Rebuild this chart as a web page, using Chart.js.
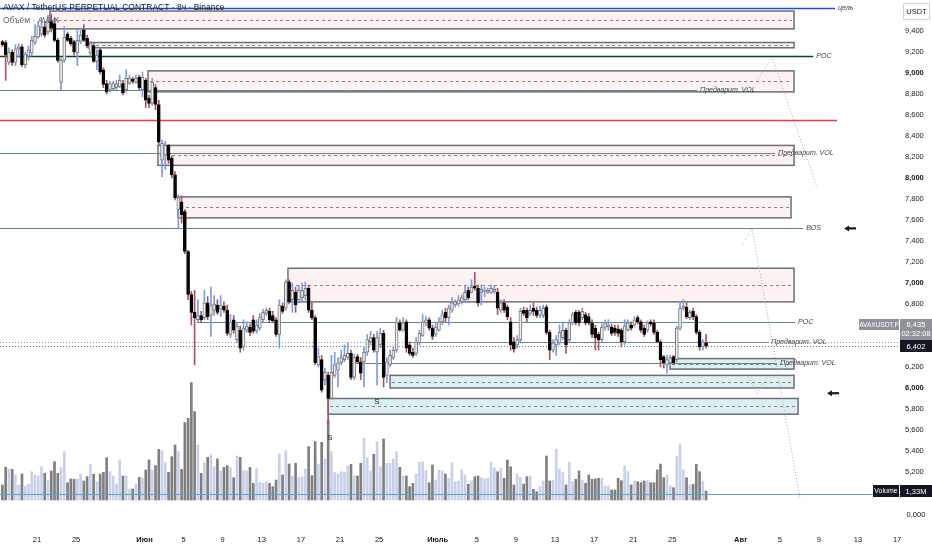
<!DOCTYPE html>
<html>
<head>
<meta charset="utf-8">
<script src="https://cdn.jsdelivr.net/npm/chart.js@4.4.1/dist/chart.umd.min.js"></script>
<style>
  html, body { margin: 0; padding: 0; background: #fff; }
</style>
</head>
<body>
<canvas id="chart" width="932" height="550"></canvas>
<script>
// 8h candles; time axis counted in days from 1 June
const firstDay = -14.54;
const barsPerDay = 3;

const opens = [
  9.30, 9.29, 9.10, 9.20, 9.10, 9.23, 9.25, 9.08, 9.16, 9.19,
  9.29, 9.34, 9.37, 9.44, 9.39, 9.49, 9.47, 9.31, 8.91, 9.12,
  9.37, 9.33, 9.30, 9.19, 9.30, 9.41, 9.33, 9.19, 9.26, 9.11,
  9.22, 9.03, 8.90, 8.84, 8.85, 8.86, 8.87, 8.90, 8.84, 8.90,
  8.94, 8.91, 8.96, 8.84, 8.93, 8.76, 8.71, 8.86, 8.70, 8.17,
  8.22, 8.31, 8.19, 8.03, 7.70, 7.77, 7.68, 7.30, 6.89, 6.72,
  6.65, 6.69, 6.67, 6.81, 6.69, 6.74, 6.79, 6.75, 6.78, 6.74,
  6.51, 6.65, 6.46, 6.55, 6.39, 6.55, 6.58, 6.65, 6.54, 6.57,
  6.65, 6.71, 6.73, 6.69, 6.65, 6.51, 6.78, 6.76, 7.01, 6.84,
  6.91, 6.84, 6.86, 6.88, 6.95, 6.74, 6.67, 6.22, 6.27, 6.08,
  6.12, 5.90, 6.12, 6.17, 6.24, 6.27, 6.29, 6.33, 6.10, 6.30,
  6.25, 6.25, 6.34, 6.44, 6.48, 6.34, 6.41, 6.52, 6.12, 6.22,
  6.29, 6.36, 6.62, 6.55, 6.63, 6.41, 6.34, 6.33, 6.43, 6.50,
  6.62, 6.65, 6.57, 6.51, 6.55, 6.63, 6.72, 6.67, 6.74, 6.79,
  6.80, 6.82, 6.84, 6.93, 6.91, 6.97, 6.95, 6.91, 6.92, 6.91,
  6.91, 6.92, 6.91, 6.74, 6.81, 6.77, 6.63, 6.44, 6.41, 6.46,
  6.74, 6.74, 6.71, 6.76, 6.74, 6.69, 6.69, 6.77, 6.53, 6.36,
  6.41, 6.43, 6.48, 6.55, 6.46, 6.62, 6.72, 6.72, 6.67, 6.70,
  6.68, 6.62, 6.57, 6.51, 6.46, 6.58, 6.58, 6.58, 6.57, 6.56,
  6.55, 6.44, 6.55, 6.60, 6.60, 6.67, 6.63, 6.57, 6.55, 6.63,
  6.62, 6.53, 6.44, 6.30, 6.22, 6.24, 6.30, 6.27, 6.57, 6.76,
  6.77, 6.67, 6.73, 6.68, 6.53, 6.39, 6.43
];
const highs = [
  9.31, 9.31, 9.24, 9.22, 9.27, 9.28, 9.27, 9.20, 9.26, 9.35,
  9.46, 9.49, 9.52, 9.49, 9.55, 9.56, 9.52, 9.33, 9.14, 9.44,
  9.39, 9.35, 9.31, 9.41, 9.41, 9.46, 9.36, 9.30, 9.28, 9.22,
  9.24, 9.05, 8.93, 8.92, 8.92, 8.93, 8.98, 8.93, 9.03, 8.98,
  8.96, 8.98, 8.98, 9.01, 8.95, 8.79, 8.95, 8.89, 8.74, 8.36,
  8.35, 8.32, 8.21, 8.06, 7.84, 7.83, 7.70, 7.31, 6.92, 6.93,
  6.84, 6.73, 6.93, 6.87, 6.96, 6.88, 6.84, 6.88, 6.82, 6.79,
  6.70, 6.69, 6.63, 6.59, 6.65, 6.63, 6.61, 6.69, 6.65, 6.71,
  6.75, 6.76, 6.76, 6.73, 6.67, 6.84, 6.81, 7.03, 7.03, 7.00,
  6.96, 6.97, 7.00, 7.01, 6.98, 6.81, 6.69, 6.38, 6.31, 6.19,
  6.15, 6.31, 6.34, 6.29, 6.36, 6.41, 6.43, 6.36, 6.32, 6.32,
  6.29, 6.39, 6.51, 6.54, 6.51, 6.54, 6.57, 6.55, 6.29, 6.36,
  6.39, 6.67, 6.65, 6.67, 6.65, 6.44, 6.38, 6.48, 6.55, 6.70,
  6.68, 6.67, 6.60, 6.63, 6.67, 6.74, 6.76, 6.79, 6.86, 6.84,
  6.88, 6.89, 6.97, 6.96, 7.03, 7.10, 6.98, 6.98, 6.96, 6.95,
  6.98, 6.97, 6.95, 6.84, 6.84, 6.79, 6.67, 6.48, 6.50, 6.76,
  6.77, 6.76, 6.79, 6.81, 6.77, 6.78, 6.79, 6.79, 6.55, 6.46,
  6.50, 6.60, 6.63, 6.57, 6.65, 6.72, 6.74, 6.74, 6.76, 6.72,
  6.71, 6.65, 6.60, 6.53, 6.61, 6.65, 6.65, 6.61, 6.60, 6.60,
  6.57, 6.65, 6.65, 6.63, 6.68, 6.69, 6.65, 6.60, 6.64, 6.65,
  6.65, 6.55, 6.46, 6.31, 6.31, 6.31, 6.31, 6.59, 6.82, 6.84,
  6.81, 6.74, 6.76, 6.70, 6.55, 6.46, 6.51
];
const lows = [
  9.25, 8.93, 9.08, 9.07, 9.07, 9.15, 9.06, 9.05, 9.12, 9.16,
  9.27, 9.33, 9.35, 9.34, 9.37, 9.39, 9.30, 9.10, 8.84, 9.10,
  9.30, 9.26, 9.17, 9.07, 9.28, 9.30, 9.24, 9.16, 9.10, 9.03,
  8.99, 8.86, 8.80, 8.82, 8.84, 8.84, 8.86, 8.79, 8.82, 8.89,
  8.90, 8.90, 8.84, 8.77, 8.67, 8.67, 8.69, 8.65, 8.31, 8.01,
  8.08, 8.14, 8.00, 7.79, 7.52, 7.57, 7.28, 6.84, 6.60, 6.22,
  6.63, 6.63, 6.65, 6.65, 6.49, 6.69, 6.70, 6.68, 6.72, 6.50,
  6.48, 6.52, 6.43, 6.34, 6.36, 6.53, 6.50, 6.52, 6.52, 6.55,
  6.63, 6.69, 6.63, 6.62, 6.49, 6.38, 6.71, 6.74, 6.80, 6.72,
  6.72, 6.81, 6.82, 6.84, 6.72, 6.65, 6.22, 6.20, 5.96, 6.03,
  5.65, 5.89, 6.10, 6.01, 6.22, 6.25, 6.27, 6.08, 6.08, 6.23,
  6.08, 6.01, 6.31, 6.41, 6.34, 6.03, 6.38, 6.01, 6.05, 6.20,
  6.27, 6.34, 6.54, 6.54, 6.34, 6.31, 6.29, 6.31, 6.41, 6.49,
  6.59, 6.55, 6.46, 6.49, 6.54, 6.60, 6.63, 6.60, 6.72, 6.77,
  6.78, 6.80, 6.82, 6.84, 6.90, 6.93, 6.78, 6.79, 6.87, 6.90,
  6.90, 6.90, 6.70, 6.72, 6.72, 6.65, 6.36, 6.34, 6.38, 6.44,
  6.69, 6.63, 6.69, 6.69, 6.67, 6.67, 6.67, 6.51, 6.27, 6.34,
  6.31, 6.41, 6.46, 6.33, 6.43, 6.60, 6.60, 6.59, 6.65, 6.60,
  6.60, 6.48, 6.36, 6.36, 6.44, 6.55, 6.55, 6.50, 6.50, 6.49,
  6.39, 6.41, 6.54, 6.55, 6.58, 6.61, 6.53, 6.49, 6.53, 6.59,
  6.51, 6.43, 6.20, 6.19, 6.14, 6.21, 6.22, 6.25, 6.55, 6.74,
  6.66, 6.65, 6.65, 6.51, 6.36, 6.36, 6.38
];
const closes = [
  9.27, 9.17, 9.20, 9.10, 9.23, 9.25, 9.08, 9.18, 9.22, 9.31,
  9.35, 9.45, 9.44, 9.36, 9.49, 9.43, 9.31, 9.12, 9.12, 9.34,
  9.31, 9.28, 9.20, 9.31, 9.36, 9.31, 9.26, 9.28, 9.11, 9.17,
  9.01, 8.89, 8.82, 8.90, 8.90, 8.90, 8.93, 8.81, 8.95, 8.95,
  8.92, 8.95, 8.86, 8.96, 8.74, 8.71, 8.91, 8.70, 8.34, 8.33,
  8.31, 8.17, 8.03, 7.81, 7.81, 7.65, 7.30, 6.89, 6.72, 6.67,
  6.69, 6.65, 6.81, 6.68, 6.79, 6.80, 6.72, 6.79, 6.74, 6.52,
  6.63, 6.55, 6.59, 6.38, 6.57, 6.59, 6.53, 6.54, 6.60, 6.67,
  6.72, 6.74, 6.65, 6.64, 6.51, 6.79, 6.73, 7.01, 6.82, 6.93,
  6.79, 6.93, 6.93, 6.95, 6.74, 6.67, 6.24, 6.30, 5.98, 6.15,
  5.90, 6.15, 6.22, 6.24, 6.29, 6.31, 6.33, 6.10, 6.29, 6.25,
  6.14, 6.34, 6.46, 6.48, 6.36, 6.48, 6.52, 6.10, 6.25, 6.31,
  6.36, 6.63, 6.55, 6.62, 6.38, 6.33, 6.31, 6.44, 6.52, 6.63,
  6.65, 6.57, 6.49, 6.58, 6.63, 6.70, 6.67, 6.76, 6.81, 6.82,
  6.84, 6.86, 6.91, 6.86, 6.96, 6.95, 6.81, 6.94, 6.93, 6.93,
  6.95, 6.94, 6.76, 6.81, 6.74, 6.68, 6.41, 6.37, 6.46, 6.73,
  6.71, 6.67, 6.74, 6.73, 6.69, 6.74, 6.76, 6.53, 6.36, 6.43,
  6.46, 6.53, 6.55, 6.41, 6.62, 6.70, 6.62, 6.62, 6.73, 6.62,
  6.62, 6.51, 6.48, 6.46, 6.58, 6.62, 6.60, 6.52, 6.53, 6.52,
  6.44, 6.59, 6.62, 6.57, 6.65, 6.63, 6.55, 6.51, 6.62, 6.61,
  6.53, 6.44, 6.27, 6.24, 6.27, 6.29, 6.24, 6.57, 6.76, 6.78,
  6.68, 6.72, 6.68, 6.53, 6.39, 6.44, 6.40
];
// volume, millions
const volumes = [
  2.22, 4.83, 4.58, 4.53, 3.70, 2.22, 3.84, 2.07, 2.37, 4.19,
  3.70, 3.55, 4.93, 3.94, 2.96, 4.29, 5.67, 3.94, 4.78, 7.15,
  2.56, 3.11, 3.06, 3.11, 3.84, 2.81, 3.45, 5.28, 3.80, 2.71,
  3.84, 4.09, 6.26, 4.19, 3.55, 2.37, 5.92, 3.55, 3.55, 1.63,
  1.63, 2.37, 3.35, 3.20, 4.44, 5.92, 4.44, 5.08, 7.49, 7.25,
  5.52, 4.09, 6.41, 8.13, 7.15, 4.53, 11.44, 12.08, 17.35, 13.06,
  8.13, 3.94, 5.52, 6.31, 6.66, 4.93, 6.06, 4.29, 4.83, 5.08,
  4.78, 3.30, 6.51, 6.31, 4.34, 4.34, 4.83, 2.47, 4.63, 2.61,
  2.47, 2.71, 2.47, 1.97, 2.96, 6.80, 3.70, 7.30, 5.32, 3.55,
  5.42, 3.35, 3.45, 4.58, 7.89, 3.60, 8.63, 5.32, 8.53, 6.01,
  11.83, 7.15, 4.04, 3.84, 4.19, 4.09, 5.03, 5.27, 3.55, 3.55,
  5.42, 9.12, 6.26, 4.29, 6.75, 8.63, 4.93, 9.02, 5.42, 5.42,
  6.06, 7.15, 4.83, 3.55, 3.55, 1.97, 2.47, 3.84, 5.57, 5.67,
  4.34, 2.56, 5.18, 2.96, 4.44, 4.29, 3.84, 3.20, 5.52, 2.71,
  2.81, 4.44, 3.70, 2.32, 2.81, 3.45, 3.55, 3.30, 3.11, 3.20,
  5.57, 4.78, 4.19, 4.68, 3.20, 5.92, 4.93, 2.22, 3.84, 3.35,
  2.37, 3.45, 3.55, 1.58, 1.23, 1.97, 2.81, 6.51, 2.81, 2.86,
  7.54, 4.58, 4.04, 2.22, 5.57, 2.71, 3.06, 4.29, 2.86, 2.47,
  3.70, 3.06, 3.11, 3.20, 3.20, 2.07, 2.07, 1.48, 1.48, 3.20,
  2.86, 5.03, 4.19, 2.22, 2.86, 2.71, 2.56, 2.81, 2.86, 2.56,
  2.56, 4.44, 5.32, 3.30, 3.70, 2.07, 1.82, 6.41, 8.28, 4.44,
  3.30, 2.22, 2.32, 5.27, 4.19, 2.81, 1.33
];

// axis ticks
const xTickDays = [-11, -7, 0, 4, 8, 12, 16, 20, 24, 30, 34, 38, 42, 46, 50, 54, 61, 65, 69, 73, 77];
const xTickLabels = ['21', '25', 'Июн', '5', '9', '13', '17', '21', '25', 'Июль', '5', '9', '13', '17', '21', '25', 'Авг', '5', '9', '13', '17'];
const priceTicks = [9.4, 9.2, 9.0, 8.8, 8.6, 8.4, 8.2, 8.0, 7.8, 7.6, 7.4, 7.2, 7.0, 6.8, 6.6, 6.4, 6.2, 6.0, 5.8, 5.6, 5.4, 5.2];

// drawn zones (from day, to day, top, bottom)
const zoneFrom = [-9.67, -5.78, 0.36, 1.38, 3.43, 14.68, 53.77, 25.12, 18.78];
const zoneTo = [66.46, 66.46, 66.46, 66.46, 66.15, 66.46, 66.46, 66.46, 66.87];
const zoneHigh = [9.59, 9.29, 9.02, 8.31, 7.82, 7.14, 6.28, 6.12, 5.90];
const zoneLow = [9.42, 9.24, 8.82, 8.12, 7.62, 6.82, 6.18, 6.00, 5.75];
const zoneSide = ['supply', 'supply', 'supply', 'supply', 'supply', 'supply', 'demand', 'demand', 'demand'];

// horizontal levels
const levelPrice = [9.62, 9.16, 8.84, 8.55, 8.24, 7.52, 6.63, 6.44, 6.24, 4.99];
const levelFrom = [null, null, null, null, null, null, 5.37, 26.66, 21.54, null];
const levelTo = [70.65, 68.43, 56.54, 70.86, 64.52, 67.39, 66.56, 63.81, 64.73, null];
const levelText = ['цель', 'POC', 'Предварит. VOL', '', 'Предварит. VOL', 'BOS', 'POC', 'Предварит. VOL', 'Предварит. VOL', ''];
const levelKind = ['target', 'poc', 'vol', 'red', 'vol', 'vol', 'vol', 'vol', 'vol', 'blue'];

// projected path sketches
const pathDays = [[62.67, 64.21, 68.81], [61.14, 62.16, 67.07], [61.76, 62.67, 63.70]];
const pathPrices = [[8.93, 9.15, 7.91], [7.36, 7.52, 4.95], [6.10, 5.95, 6.10]];

const arrowDays = [72.19, 70.45];
const arrowPrices = [7.52, 5.95];
const markDays = [23.79, 18.98];
const markPrices = [5.87, 5.53];

const lastTrade = 6.435;
const markPrice = 6.402;

const font = "'Liberation Sans', Arial, sans-serif";
const levelColors = { target: '#2150d8', poc: '#0f3f2f', vol: '#5c8a84', red: '#f23645', blue: '#5aa7c6' };

const candleDays = opens.map((_, i) => firstDay + i / barsPerDay);
const isUp = closes.map((c, i) => c >= opens[i]);

const fmt = v => v.toFixed(3).replace('.', ',');

function box(ctx, x, y, w, h, bg, text, color, size) {
  ctx.fillStyle = bg;
  ctx.fillRect(x, y, w, h);
  ctx.fillStyle = color;
  ctx.font = size + 'px ' + font;
  ctx.textAlign = 'center';
  ctx.textBaseline = 'middle';
  ctx.fillText(text, x + w / 2, y + h / 2 + 0.5);
}

function drawLevel(chart, i) {
  const { ctx, chartArea, scales: { x, y } } = chart;
  const x1 = levelFrom[i] === null ? chartArea.left : x.getPixelForValue(levelFrom[i]);
  const x2 = levelTo[i] === null ? chartArea.right : x.getPixelForValue(levelTo[i]);
  const yy = Math.round(y.getPixelForValue(levelPrice[i])) + 0.5;
  ctx.strokeStyle = levelColors[levelKind[i]];
  ctx.lineWidth = levelKind[i] === 'vol' || levelKind[i] === 'blue' ? 1 : 1.5;
  ctx.beginPath();
  ctx.moveTo(x1, yy);
  ctx.lineTo(x2, yy);
  ctx.stroke();
}

const drawings = {
  id: 'drawings',
  beforeDatasetsDraw(chart) {
    const { ctx, chartArea, scales: { x, y } } = chart;
    ctx.save();
    // zones
    for (let i = 0; i < zoneHigh.length; i++) {
      const x1 = x.getPixelForValue(zoneFrom[i]), x2 = x.getPixelForValue(zoneTo[i]);
      const y1 = y.getPixelForValue(zoneHigh[i]), y2 = y.getPixelForValue(zoneLow[i]);
      ctx.fillStyle = zoneSide[i] === 'supply' ? 'rgba(242,54,69,0.07)' : 'rgba(40,160,175,0.16)';
      ctx.fillRect(x1, y1, x2 - x1, y2 - y1);
      ctx.setLineDash([]);
      ctx.lineWidth = 1.5;
      ctx.strokeStyle = '#6b6e78';
      ctx.strokeRect(x1, y1, x2 - x1, y2 - y1);
      ctx.setLineDash([3, 3]);
      ctx.lineWidth = 1;
      ctx.strokeStyle = '#80838c';
      const ym = Math.round((y1 + y2) / 2) + 0.5;
      ctx.beginPath();
      ctx.moveTo(x1 + 2, ym);
      ctx.lineTo(x2 - 2, ym);
      ctx.stroke();
    }
    // levels (the blue one goes over the volume bars later)
    ctx.setLineDash([]);
    for (let i = 0; i < levelPrice.length; i++) {
      if (levelKind[i] !== 'blue') drawLevel(chart, i);
    }
    // last price lines
    ctx.setLineDash([1, 2]);
    ctx.lineWidth = 1;
    [[lastTrade, '#9598a1'], [markPrice, '#6a6d78']].forEach(([p, c]) => {
      const yy = Math.round(y.getPixelForValue(p)) + 0.5;
      ctx.strokeStyle = c;
      ctx.beginPath();
      ctx.moveTo(chartArea.left, yy);
      ctx.lineTo(chartArea.right, yy);
      ctx.stroke();
    });
    ctx.restore();
  },
  afterDatasetsDraw(chart) {
    const { ctx, scales: { x, y } } = chart;
    ctx.save();
    for (let i = 0; i < levelPrice.length; i++) {
      if (levelKind[i] === 'blue') drawLevel(chart, i);
    }
    // level captions
    ctx.font = 'italic 7px ' + font;
    ctx.fillStyle = '#3a3d45';
    ctx.textAlign = 'left';
    ctx.textBaseline = 'middle';
    for (let i = 0; i < levelPrice.length; i++) {
      if (!levelText[i]) continue;
      ctx.fillText(levelText[i], x.getPixelForValue(levelTo[i]) + 3, y.getPixelForValue(levelPrice[i]));
    }
    // projection paths
    ctx.setLineDash([1, 2]);
    ctx.strokeStyle = '#a3a6ad';
    ctx.lineWidth = 1;
    pathDays.forEach((days, k) => {
      ctx.beginPath();
      days.forEach((d, j) => {
        const px = x.getPixelForValue(d), py = y.getPixelForValue(pathPrices[k][j]);
        if (j === 0) ctx.moveTo(px, py); else ctx.lineTo(px, py);
      });
      ctx.stroke();
    });
    ctx.setLineDash([]);
    // arrows
    ctx.fillStyle = '#1a1a1a';
    ctx.strokeStyle = '#1a1a1a';
    arrowDays.forEach((d, i) => {
      const ax = x.getPixelForValue(d), ay = y.getPixelForValue(arrowPrices[i]);
      ctx.lineWidth = 2.2;
      ctx.beginPath();
      ctx.moveTo(ax - 2, ay);
      ctx.lineTo(ax + 6, ay);
      ctx.stroke();
      ctx.beginPath();
      ctx.moveTo(ax - 6, ay);
      ctx.lineTo(ax - 1, ay - 3);
      ctx.lineTo(ax - 1, ay + 3);
      ctx.closePath();
      ctx.fill();
    });
    // S marks
    ctx.font = '8px ' + font;
    ctx.textAlign = 'center';
    markDays.forEach((d, i) => ctx.fillText('S', x.getPixelForValue(d), y.getPixelForValue(markPrices[i])));
    ctx.restore();
  },
  afterDraw(chart) {
    const { ctx, chartArea, scales: { y, yVol } } = chart;
    ctx.save();
    // legend texts
    ctx.textAlign = 'left';
    ctx.textBaseline = 'middle';
    ctx.font = '8.5px ' + font;
    ctx.fillStyle = '#131722';
    ctx.fillText('AVAX / TetherUS PERPETUAL CONTRACT · 8ч · Binance', 3, 8);
    ctx.fillStyle = '#5d606b';
    ctx.fillText('Объём · AVAX', 3, 21);
    // currency box
    ctx.fillStyle = '#fff';
    ctx.strokeStyle = '#d1d4dc';
    ctx.lineWidth = 1;
    ctx.beginPath();
    ctx.rect(903.5, 3.5, 26, 16);
    ctx.fill();
    ctx.stroke();
    ctx.fillStyle = '#131722';
    ctx.font = '7.5px ' + font;
    ctx.textAlign = 'center';
    ctx.fillText('USDT', 916.5, 12);
    // price labels
    const ym = Math.round(y.getPixelForValue(markPrice));
    const ax = chartArea.right;
    ctx.fillStyle = '#8f9299';
    ctx.fillRect(ax, ym - 27, 32, 21);
    ctx.fillStyle = '#fff';
    ctx.font = '7.5px ' + font;
    ctx.fillText(fmt(lastTrade), ax + 16, ym - 21.5);
    ctx.fillText('02:32:08', ax + 16, ym - 12);
    box(ctx, ax - 41, ym - 27, 40, 11, '#8f9299', 'AVAXUSDT.P', '#fff', 6.5);
    box(ctx, ax, ym - 6, 32, 12, '#131722', fmt(markPrice), '#fff', 7.5);
    // volume labels
    const yv = Math.round(yVol.getPixelForValue(volumes[volumes.length - 1]));
    box(ctx, ax - 27, yv - 6, 26, 12, '#131722', 'Volume', '#fff', 7);
    box(ctx, ax, yv - 6, 32, 12, '#131722', '1,33M', '#fff', 7.5);
    ctx.fillStyle = '#131722';
    ctx.font = '7.5px ' + font;
    ctx.textAlign = 'center';
    ctx.fillText('0,000', ax + 16, chartArea.bottom - 12);
    ctx.restore();
  }
};

function isMonth(c) {
  return c && typeof c.index === 'number' && isNaN(Number(xTickLabels[c.index]));
}
function isWhole(c) {
  return c && c.tick && Math.abs(c.tick.value - Math.round(c.tick.value)) < 1e-6;
}
function noEdgePadding(s) {
  s.paddingTop = 0;
  s.paddingBottom = 0;
  s.paddingLeft = 0;
  s.paddingRight = 0;
}

new Chart(document.getElementById('chart'), {
  type: 'bar',
  data: {
    datasets: [
      {
        label: 'Volume',
        data: candleDays.map((d, i) => ({ x: d, y: volumes[i] })),
        yAxisID: 'yVol',
        backgroundColor: isUp.map(u => u ? '#c8d0ec' : '#7f7f7f'),
        barThickness: 2,
        order: 3
      },
      {
        label: 'Wicks',
        data: candleDays.map((d, i) => ({ x: d, y: [lows[i], highs[i]] })),
        yAxisID: 'y',
        backgroundColor: isUp.map(u => u ? '#7d9be2' : '#a8555e'),
        barThickness: 1,
        order: 2
      },
      {
        label: 'Bodies',
        data: candleDays.map((d, i) => ({ x: d, y: [opens[i], closes[i]] })),
        yAxisID: 'y',
        backgroundColor: isUp.map(u => u ? '#ececec' : '#050505'),
        borderColor: isUp.map(u => u ? '#7a7a7a' : '#050505'),
        borderWidth: 1,
        borderSkipped: false,
        minBarLength: 1,
        barThickness: 3,
        order: 1
      }
    ]
  },
  options: {
    responsive: false,
    animation: false,
    devicePixelRatio: 1,
    layout: { padding: 0 },
    datasets: { bar: { grouped: false } },
    plugins: { legend: { display: false }, tooltip: { enabled: false } },
    scales: {
      x: {
        type: 'linear',
        min: -14.786,
        max: 77.30,
        offset: false,
        grid: { display: false, drawTicks: false },
        border: { display: false },
        afterBuildTicks: s => { s.ticks = xTickDays.map(v => ({ value: v })); },
        afterFit: s => { s.height = 23; noEdgePadding(s); },
        ticks: {
          autoSkip: false,
          maxRotation: 0,
          padding: 8,
          color: '#131722',
          callback: (v, i) => xTickLabels[i],
          font: c => ({ family: font, size: 7.5, weight: isMonth(c) ? 'bold' : 'normal' })
        }
      },
      y: {
        position: 'right',
        min: 4.676,
        max: 9.695,
        grid: { display: false, drawTicks: false },
        border: { display: false },
        afterBuildTicks: s => { s.ticks = priceTicks.map(v => ({ value: v })); },
        afterFit: s => { s.width = 32; noEdgePadding(s); },
        ticks: {
          padding: 5,
          crossAlign: 'center',
          color: '#131722',
          callback: v => fmt(v),
          font: c => ({ family: font, size: 7.5, weight: isWhole(c) ? 'bold' : 'normal' })
        }
      },
      yVol: {
        display: false,
        min: -3.99,
        max: 73.89
      }
    }
  },
  plugins: [drawings]
});
</script>
</body>
</html>
